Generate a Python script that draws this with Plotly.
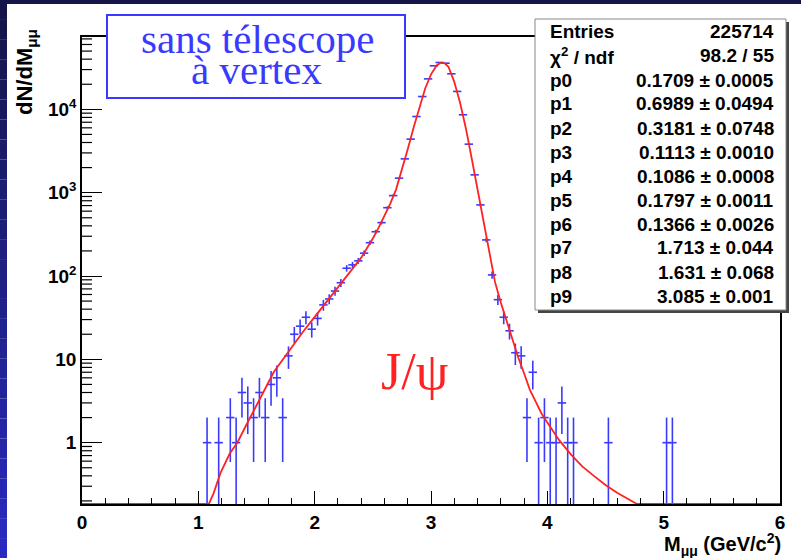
import numpy as np
import plotly.graph_objects as go

# ---------------- data ----------------
mass = [1.075, 1.175, 1.275, 1.325, 1.375, 1.425, 1.475, 1.525, 1.575, 1.625,
        1.675, 1.725, 1.775, 1.825, 1.875, 1.925, 1.975, 2.025, 2.075, 2.125,
        2.175, 2.225, 2.275, 2.325, 2.375, 2.425, 2.475, 2.525, 2.575, 2.625,
        2.675, 2.725, 2.775, 2.825, 2.875, 2.925, 2.975, 3.025, 3.075, 3.125,
        3.175, 3.225, 3.275, 3.325, 3.375, 3.425, 3.475, 3.525, 3.575, 3.625,
        3.675, 3.725, 3.775, 3.825, 3.875, 3.925, 3.975, 4.025, 4.075, 4.125,
        4.175, 4.225, 4.525, 5.025, 5.075]
counts = [1, 1, 2, 1, 4, 3, 2, 4, 2, 5,
          6, 2, 11, 20, 25, 32, 23, 31, 45, 53,
          66, 83, 124, 136, 152, 188, 251, 340, 437, 660,
          922, 1493, 2545, 4390, 8200, 14250, 23200, 33300, 36500, 35800,
          26700, 16400, 8600, 3820, 1636, 713, 271, 103, 52, 32,
          22, 12, 11, 2, 7, 1, 2, 1, 1, 3,
          1, 1, 1, 1, 1]

fit_mass = [0.0, 1.09, 1.13, 1.19, 1.27, 1.335, 1.40, 1.45, 1.50, 1.55,
            1.60, 1.65, 1.70, 1.75, 1.80, 1.85, 1.90, 1.95, 2.00, 2.05,
            2.10, 2.15, 2.20, 2.25, 2.30, 2.35, 2.40, 2.45, 2.50, 2.55,
            2.60, 2.65, 2.70, 2.75, 2.80, 2.85, 2.90, 2.95, 3.00, 3.05,
            3.085, 3.12, 3.15, 3.20, 3.25, 3.30, 3.35, 3.40, 3.45, 3.50,
            3.55, 3.60, 3.65, 3.70, 3.75, 3.80, 3.85, 3.90, 3.95, 4.00,
            4.10, 4.20, 4.30, 4.40, 4.50, 4.60, 4.70, 4.77, 6.0]
fit_val = [0.0, 0.18, 0.245, 0.43, 0.74, 1.0, 1.51, 2.04, 2.75, 3.8,
           5.2, 7.1, 8.9, 11.2, 13.8, 17.4, 21.4, 26.3, 32.4, 39.8,
           49, 60, 74, 91, 112, 135, 166, 214, 282, 380,
           525, 741, 1096, 1862, 3311, 6026, 10715, 17780, 26300, 33900,
           36300, 35500, 32400, 21400, 12000, 5900, 2570, 1100, 457, 182,
           85, 48, 29, 18.2, 10.5, 6.8, 4.3, 3.1, 2.24, 1.74,
           1.08, 0.73, 0.52, 0.40, 0.31, 0.25, 0.21, 0.18, 0.0]

x_tick_vals = [0, 1, 2, 3, 4, 5, 6]
y_tick_vals = [1, 10, 100, 1000, 10000]
y_tick_text = ["1", "10", "10<sup>2</sup>", "10<sup>3</sup>", "10<sup>4</sup>"]

stat_labels = ["Entries", "χ<sup>2</sup> / ndf", "p0", "p1", "p2", "p3", "p4",
               "p5", "p6", "p7", "p8", "p9"]
stat_values = ["225714", "98.2 / 55", "0.1709 ± 0.0005", "0.6989 ± 0.0494",
               "0.3181 ± 0.0748", "0.1113 ± 0.0010", "0.1086 ± 0.0008",
               "0.1797 ± 0.0011", "0.1366 ± 0.0026", "1.713 ± 0.044",
               "1.631 ± 0.068", "3.085 ± 0.001"]

# ---------------- layout geometry ----------------
W, H = 801, 558
L, R, T, B = 82, 780, 37, 504
YLOG = [-0.736, 4.868]
ymin_val = 10 ** YLOG[0]


def px(x):
    return (x - L) / (R - L)


def py(y):
    return (B - y) / (B - T)


def pylog(v):
    return (np.log10(v) - YLOG[0]) / (YLOG[1] - YLOG[0])


BLUE = "#3a3aff"
RED = "#ff2222"
SANS = "Liberation Sans"
SERIF = "Liberation Serif"

cnt = np.array(counts, dtype=float)
err = np.sqrt(cnt)
err_minus = np.minimum(err, cnt - 0.02)

fig = go.Figure()
fig.add_trace(go.Scatter(
    x=mass, y=counts, mode="markers",
    marker=dict(symbol="line-ew", size=6, color=BLUE,
                line=dict(color=BLUE, width=1.6)),
    error_y=dict(type="data", array=err, arrayminus=err_minus,
                 color=BLUE, thickness=1.6, width=0),
    showlegend=False, hoverinfo="skip"))
fig.add_trace(go.Scatter(
    x=fit_mass, y=np.maximum(np.array(fit_val), ymin_val), mode="lines",
    line=dict(color=RED, width=1.8), showlegend=False, hoverinfo="skip"))

shapes = []
# outer dark frame: top and left strips
shapes.append(dict(type="rect", xref="paper", yref="paper",
                   x0=px(0), x1=px(W), y0=py(4), y1=py(0),
                   fillcolor="#151548", line=dict(width=0), layer="below"))
n = 28
for i in range(n):
    t = i / (n - 1)
    r = int(0x15 + (0x2a - 0x15) * t)
    g = int(0x15 + (0x2a - 0x15) * t)
    b = int(0x48 + (0xc0 - 0x48) * t)
    shapes.append(dict(type="rect", xref="paper", yref="paper",
                       x0=px(0), x1=px(7), y0=py(H * (i + 1) / n), y1=py(H * i / n),
                       fillcolor=f"rgb({r},{g},{b})", line=dict(width=0),
                       layer="below"))
# minor ticks of the log y axis (2..9 x 10^d)
for d in range(-1, 5):
    for k in range(2, 10):
        v = k * 10.0 ** d
        if YLOG[0] < np.log10(v) < YLOG[1]:
            yy = pylog(v)
            shapes.append(dict(type="line", xref="paper", yref="paper",
                               x0=0, x1=px(L + 10), y0=yy, y1=yy,
                               line=dict(color="black", width=1.2)))
# text box
shapes.append(dict(type="rect", xref="paper", yref="paper",
                   x0=px(107), x1=px(405), y0=py(98), y1=py(15),
                   fillcolor="white", line=dict(color=BLUE, width=2)))
# stats box shadow + box
shapes.append(dict(type="rect", xref="paper", yref="paper",
                   x0=px(538), x1=px(789), y0=py(313), y1=py(22),
                   fillcolor="#444444", line=dict(width=0)))
shapes.append(dict(type="rect", xref="paper", yref="paper",
                   x0=px(535), x1=px(786), y0=py(310), y1=py(19),
                   fillcolor="white", line=dict(color="#888888", width=1)))

ann = []
ann.append(dict(text="sans télescope", x=px(257), y=py(39), xref="paper", yref="paper",
                showarrow=False, xanchor="center", yanchor="middle",
                font=dict(family=SERIF, size=41, color=BLUE)))
ann.append(dict(text="à vertex", x=px(256), y=py(70), xref="paper", yref="paper",
                showarrow=False, xanchor="center", yanchor="middle",
                font=dict(family=SERIF, size=41, color=BLUE)))
ann.append(dict(text="J/ψ", x=px(414), y=py(371), xref="paper", yref="paper",
                showarrow=False, xanchor="center", yanchor="middle",
                font=dict(family=SERIF, size=52, color=RED)))
row0, step = 31, 24.0
for i, (lab, val) in enumerate(zip(stat_labels, stat_values)):
    yc = row0 + i * step + 1
    ann.append(dict(text=lab, x=px(548), y=py(yc), xref="paper", yref="paper",
                    showarrow=False, xanchor="left", yanchor="middle",
                    font=dict(family=SANS, size=19, color="black", weight="bold")))
    ann.append(dict(text=val, x=px(776), y=py(yc), xref="paper", yref="paper",
                    showarrow=False, xanchor="right", yanchor="middle",
                    font=dict(family=SANS, size=19, color="black", weight="bold")))
ann.append(dict(text="dN/dM<sub>μμ</sub>", x=px(26), y=py(72), xref="paper", yref="paper",
                showarrow=False, xanchor="center", yanchor="middle", textangle=-90,
                font=dict(family=SANS, size=22, color="black", weight="bold")))
ann.append(dict(text="M<sub>μμ</sub> (GeV/c<sup>2</sup>)", x=px(783), y=py(544),
                xref="paper", yref="paper", showarrow=False,
                xanchor="right", yanchor="middle",
                font=dict(family=SANS, size=20, color="black", weight="bold")))

axis_common = dict(showline=True, linecolor="black", linewidth=1.5, mirror=True,
                   showgrid=False, zeroline=False, ticks="inside",
                   tickcolor="black", tickwidth=1.2,
                   tickfont=dict(family=SANS, size=19, color="black", weight="bold"))

fig.update_layout(
    width=W, height=H, autosize=False,
    margin=dict(l=L, r=W - R, t=T, b=H - B, pad=0),
    paper_bgcolor="white", plot_bgcolor="white",
    shapes=shapes, annotations=ann,
    xaxis=dict(range=[0, 6], tickmode="array", tickvals=x_tick_vals, ticklen=13,
               minor=dict(ticks="inside", dtick=0.2, ticklen=6, tickcolor="black",
                          tickwidth=1.2),
               **axis_common),
    yaxis=dict(type="log", range=YLOG, tickmode="array", tickvals=y_tick_vals,
               ticktext=y_tick_text, ticklen=20, **axis_common),
)

fig.write_html("out.html")
